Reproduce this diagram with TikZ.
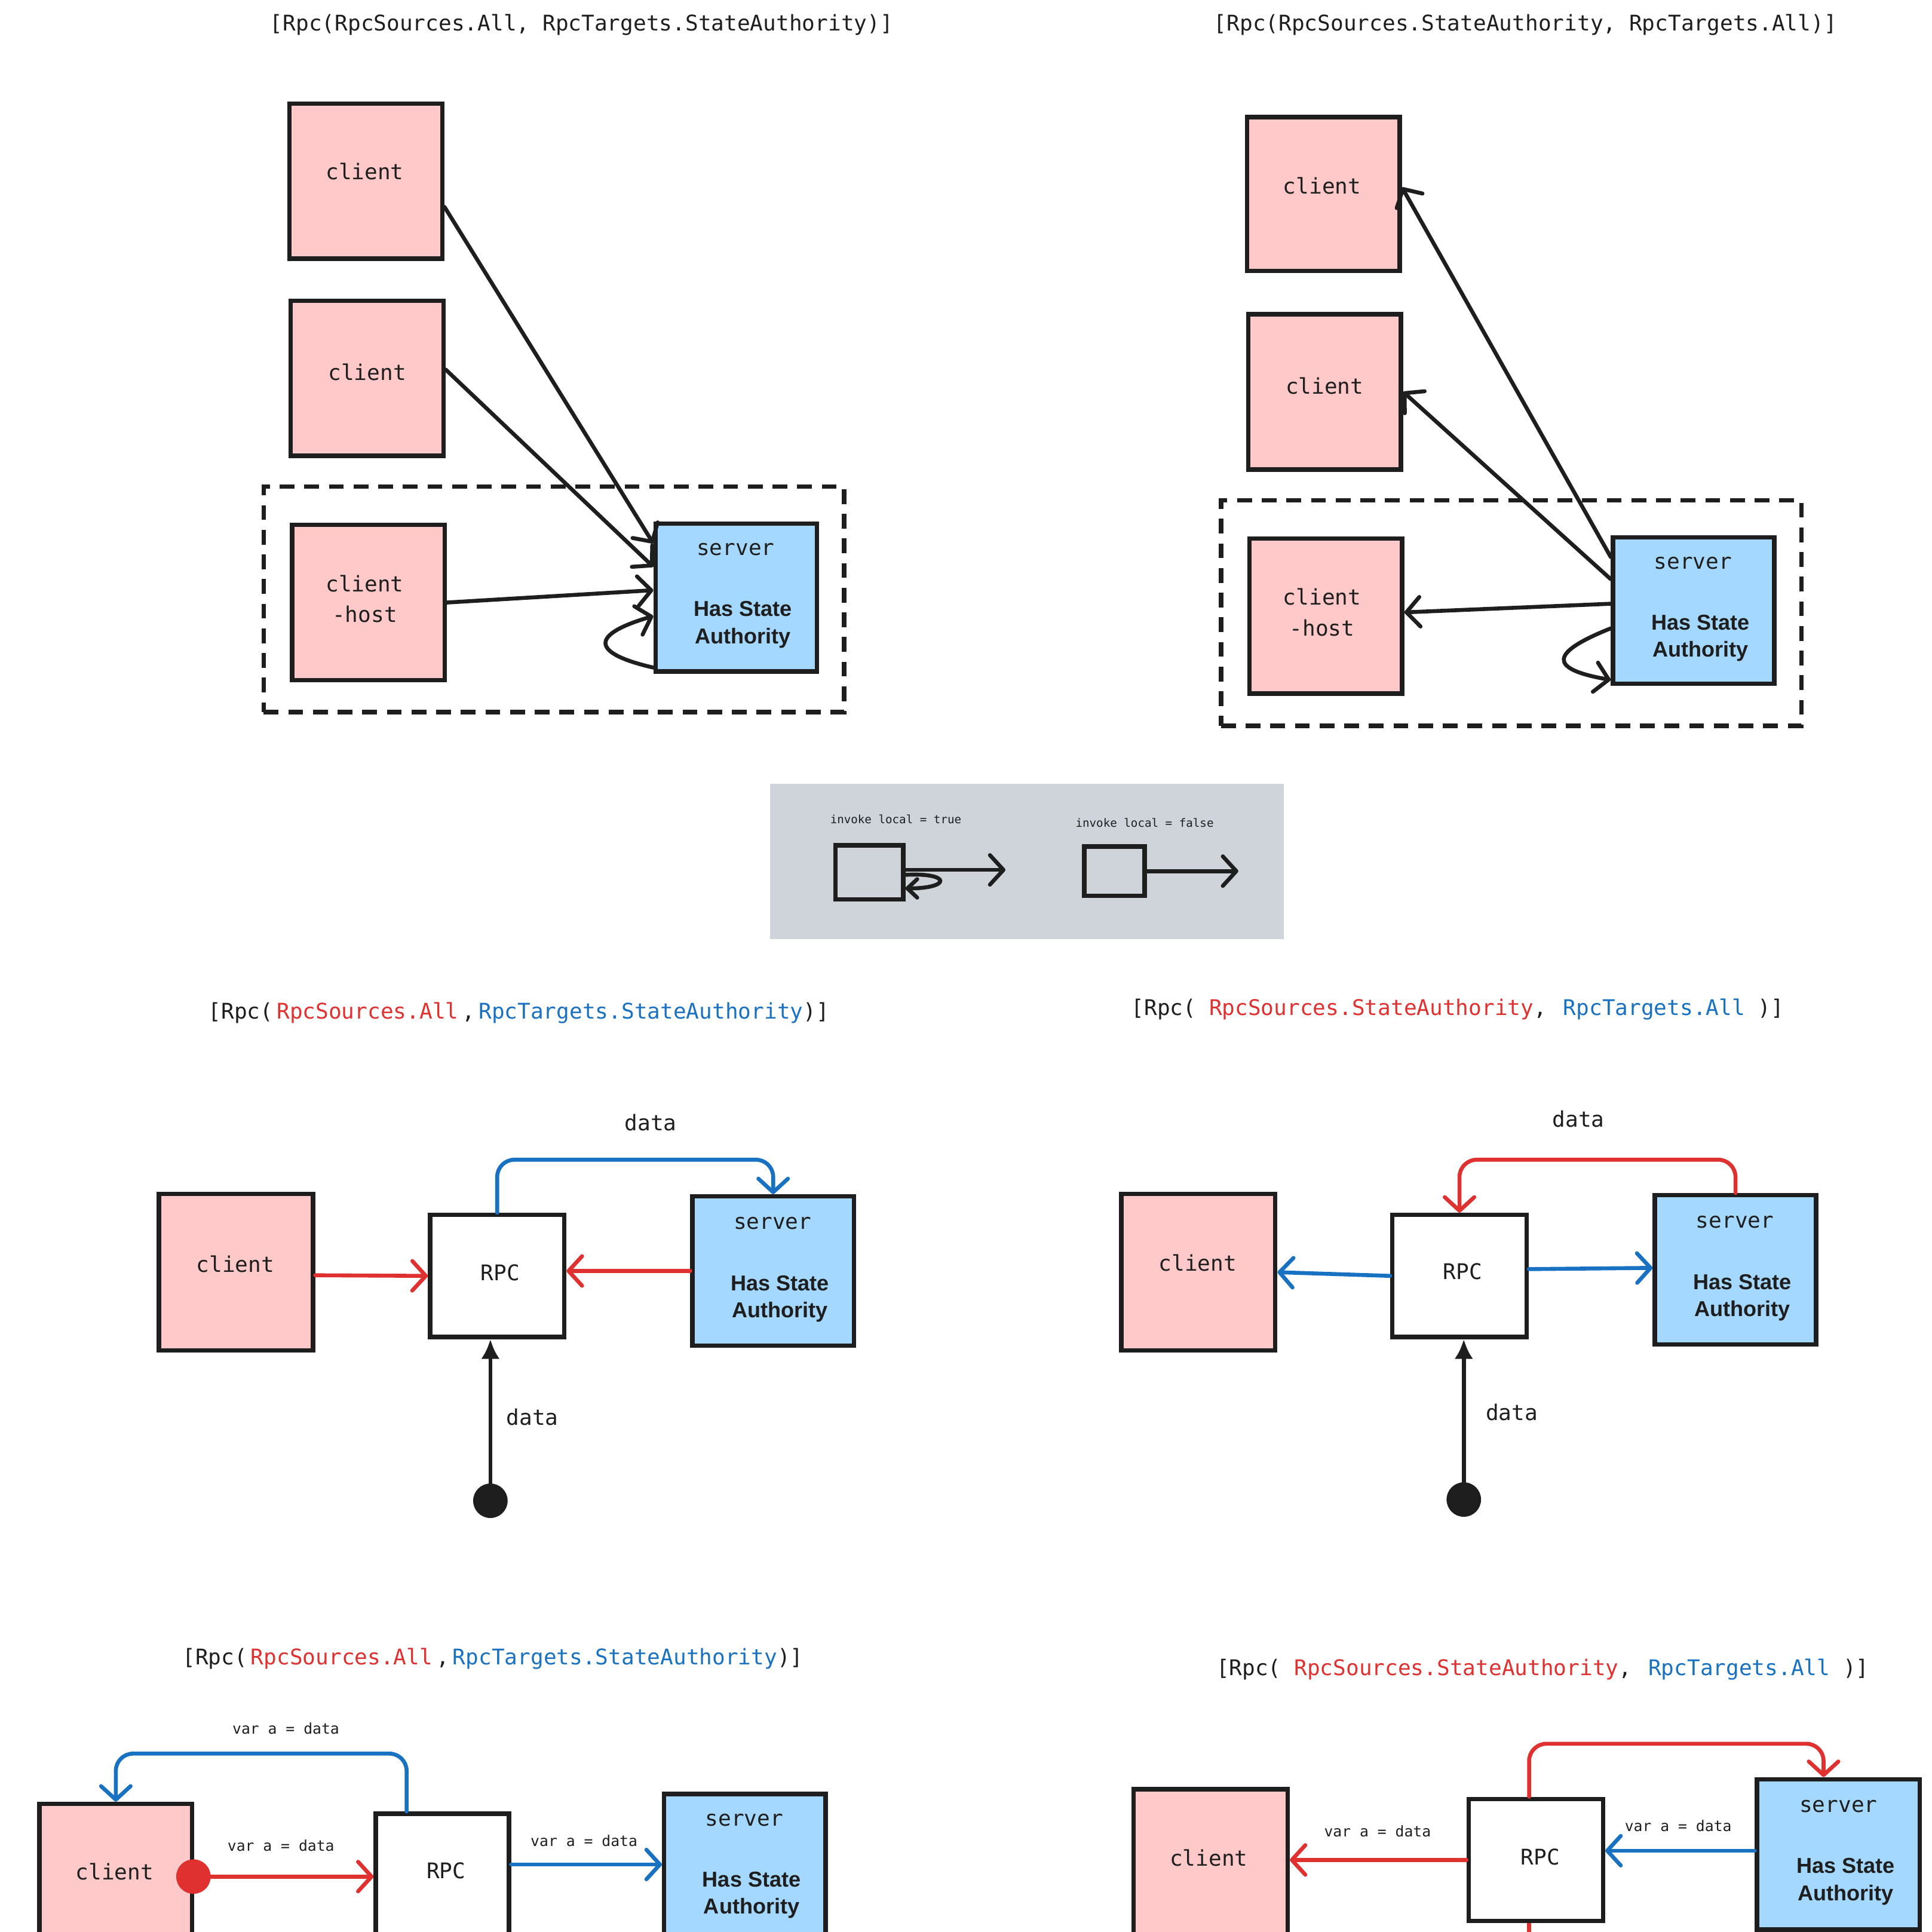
\documentclass[tikz,border=0pt]{standalone}
\usepackage{fontspec}
\setmonofont{DejaVu Sans Mono}
\newfontfamily\hsafont{Liberation Sans}
\usetikzlibrary{arrows.meta,calc}
\definecolor{ink}{HTML}{1E1E1E}
\definecolor{pinkfill}{HTML}{FFC9C9}
\definecolor{bluefill}{HTML}{A5D8FF}
\definecolor{cred}{HTML}{E03131}
\definecolor{cblue}{HTML}{1971C2}
\definecolor{lgray}{HTML}{CED4DA}
\begin{document}
\begin{tikzpicture}[x=1pt,y=-1pt,
  box/.style={draw=ink, line width=3.6pt, inner sep=0pt, rectangle},
  pinkbox/.style={box, fill=pinkfill},
  bluebox/.style={box, fill=bluefill},
  whitebox/.style={box, fill=white},
  dashbox/.style={draw=ink, line width=3.6pt, dash pattern=on 12pt off 8pt, inner sep=0pt},
  lbl/.style={font=\ttfamily\fontsize{17.5pt}{25pt}\selectfont, text=ink, inner sep=0pt},
  hsa/.style={font=\hsafont\bfseries\fontsize{17.5pt}{22pt}\selectfont, align=center, text=ink, inner sep=0pt},
  small/.style={font=\ttfamily\fontsize{12pt}{14pt}\selectfont, text=ink, inner sep=0pt},
  tiny/.style={font=\ttfamily\fontsize{9.3pt}{11pt}\selectfont, text=ink, inner sep=0pt},
  conn/.style={line width=3.2pt, draw=ink, line cap=round, -{Straight Barb[length=11pt,width=24pt,round]}},
  connsm/.style={line width=3.2pt, draw=ink, line cap=round, -{Straight Barb[length=8pt,width=15pt,round]}},
  redconn/.style={conn, draw=cred},
  blueconn/.style={conn, draw=cblue},
  blackconn/.style={line width=3.2pt, draw=ink, -{Latex[length=16pt,width=15pt]}},
  dotnode/.style={circle, fill=ink, minimum size=28pt, inner sep=0pt},
  elbow/.style={rounded corners=14pt}
]
\useasboundingbox (0,0) rectangle (1568,1568);
\clip (0,0) rectangle (1568,1568);

% ================= top left =================
\node[lbl] (t1) at (472,20) {[Rpc(RpcSources.All, RpcTargets.StateAuthority)]};
\node[dashbox, minimum width=471pt, minimum height=183pt] (g1) at (449.5,486.5) {};
\node[pinkbox, minimum width=124pt, minimum height=126pt] (a1) at (297,147) {};
\node[lbl] at (296,139) {client};
\node[pinkbox, minimum width=124pt, minimum height=126pt] (a2) at (298,307) {};
\node[lbl] at (298,302) {client};
\node[pinkbox, minimum width=124pt, minimum height=126pt] (a3) at (299,489) {};
\node[lbl, align=center] at (296,486) {client\\-host};
\node[bluebox, minimum width=131pt, minimum height=120pt] (s1) at (597.5,485) {};
\node[lbl] at (597,446) {server};
\node[hsa] at (603,507) {Has State\\Authority};
\draw[conn] ([yshift=-21pt]a1.east) -- ([yshift=44pt]s1.west);
\draw[conn] ([yshift=7pt]a2.east) -- ([yshift=25pt]s1.west);
\draw[conn] (a3.east) -- ([yshift=6pt]s1.west);
\draw[conn] ([yshift=5pt]s1.south west) .. controls (479,530) and (479,515) .. ([yshift=-15pt]s1.west);

% ================= top right =================
\node[lbl] (t2) at (1238,20) {[Rpc(RpcSources.StateAuthority, RpcTargets.All)]};
\node[dashbox, minimum width=471pt, minimum height=183pt] (g2) at (1226.5,497.5) {};
\node[pinkbox, minimum width=124pt, minimum height=125pt] (b1) at (1074,157.5) {};
\node[lbl] at (1073,151) {client};
\node[pinkbox, minimum width=124pt, minimum height=126pt] (b2) at (1075,318) {};
\node[lbl] at (1075,313) {client};
\node[pinkbox, minimum width=124pt, minimum height=126pt] (b3) at (1076,500) {};
\node[lbl, align=center] at (1073,497) {client\\-host};
\node[bluebox, minimum width=131pt, minimum height=119pt] (s2) at (1374.5,495.5) {};
\node[lbl] at (1374,457) {server};
\node[hsa] at (1380,518) {Has State\\Authority};
\draw[conn] ([yshift=43.5pt]s2.west) -- ([yshift=5.5pt]b1.east);
\draw[conn] ([yshift=25.5pt]s2.west) -- (b2.east);
\draw[conn] ([yshift=5.5pt]s2.west) -- ([yshift=3pt]b3.east);
\draw[conn] ([yshift=-14.5pt]s2.west) .. controls (1257,530) and (1257,543) .. ([yshift=5pt]s2.south west);

% ================= legend =================
\node[fill=lgray, minimum width=417pt, minimum height=126pt, inner sep=0pt] (leg) at (833.5,699) {};
\node[tiny] at (727,665) {invoke local = true};
\node[tiny] at (929,668) {invoke local = false};
\node[box, minimum width=55pt, minimum height=44pt] (lb1) at (705.5,708) {};
\node[box, minimum width=49pt, minimum height=40pt] (lb2) at (904.5,707) {};
\coordinate (le1) at (816,706);
\coordinate (le2) at (1005,707);
\draw[conn] ([yshift=2pt]lb1.east) -- (le1);
\draw[connsm] ([yshift=-2pt]lb1.east) .. controls (772,708) and (772,721) .. ([yshift=-13pt]lb1.east);
\draw[conn] (lb2.east) -- (le2);

% ================= middle left =================
\node[lbl] (t3) at (421,822) {[Rpc(\,\textcolor{cred}{RpcSources.All}\,,\,\textcolor{cblue}{RpcTargets.StateAuthority})]};
\node[lbl] at (528,911) {data};
\node[pinkbox, minimum width=125pt, minimum height=127pt] (mc) at (191.5,1032.5) {};
\node[lbl] at (191,1026) {client};
\node[whitebox, minimum width=109pt, minimum height=99pt] (mr) at (403.5,1035.5) {};
\node[lbl] at (406,1033) {RPC};
\node[bluebox, minimum width=131pt, minimum height=121pt] (ms) at (627.5,1031.5) {};
\node[lbl] at (627,993) {server};
\node[hsa] at (633,1054) {Has State\\Authority};
\draw[redconn] ([yshift=-2.5pt]mc.east) -- (mr.west);
\draw[redconn] (ms.west) -- ([yshift=4pt]mr.east);
\draw[blueconn, elbow] (mr.north) -- ++(0,-43) -| (ms.north);
\node[dotnode] (d1) at (398,1218) {};
\draw[blackconn] (d1.center) -- (d1 |- mr.south);
\node[lbl] at (432,1150) {data};

% ================= middle right =================
\node[lbl] (t4) at (1183,819) {[Rpc( \textcolor{cred}{RpcSources.StateAuthority},\, \textcolor{cblue}{RpcTargets.All} )]};
\node[lbl] at (1281,908) {data};
\node[pinkbox, minimum width=125pt, minimum height=127pt] (nc) at (972.5,1032.5) {};
\node[lbl] at (972,1025) {client};
\node[whitebox, minimum width=109pt, minimum height=99pt] (nr) at (1184.5,1035.5) {};
\node[lbl] at (1187,1032) {RPC};
\node[bluebox, minimum width=131pt, minimum height=121pt] (ns) at (1408.5,1030.5) {};
\node[lbl] at (1408,992) {server};
\node[hsa] at (1414,1053) {Has State\\Authority};
\draw[blueconn] (nr.west) -- (nc.east);
\draw[blueconn] ([yshift=5.5pt]nr.east) -- ([yshift=1.5pt]ns.west);
\draw[redconn, elbow] (ns.north) -- ++(0,-27) -| (nr.north);
\node[dotnode] (d2) at (1188,1217) {};
\draw[blackconn] (d2.center) -- (d2 |- nr.south);
\node[lbl] at (1227,1146) {data};

% ================= bottom left =================
\node[lbl] (t5) at (400,1346) {[Rpc(\,\textcolor{cred}{RpcSources.All}\,,\,\textcolor{cblue}{RpcTargets.StateAuthority})]};
\node[small] at (232,1403) {var a = data};
\node[pinkbox, minimum width=124pt, minimum height=200pt] (pc) at (94,1564) {};
\node[lbl] at (93,1519) {client};
\node[whitebox, minimum width=108pt, minimum height=200pt] (pr) at (359,1572) {};
\node[lbl] at (362,1518) {RPC};
\node[bluebox, minimum width=131pt, minimum height=200pt] (ps) at (604.5,1556) {};
\node[lbl] at (604,1477) {server};
\node[hsa] at (610,1538) {Has State\\Authority};
\node[circle, fill=cred, minimum size=28pt, inner sep=0pt] (rd) at (157,1523) {};
\draw[redconn] (rd.center) -- (rd.center -| pr.west);
\node[small] at (228,1498) {var a = data};
\draw[blueconn] ([yshift=-43pt]pr.north east) -- ([yshift=-59pt]ps.north west);
\node[small] at (474,1494) {var a = data};
\draw[blueconn, elbow] ([xshift=-29pt]pr.north) -- ++(0,-47) -| (pc.north);

% ================= bottom right =================
\node[lbl] (t6) at (1252,1355) {[Rpc( \textcolor{cred}{RpcSources.StateAuthority},\, \textcolor{cblue}{RpcTargets.All} )]};
\node[pinkbox, minimum width=125pt, minimum height=200pt] (qc) at (982.5,1552) {};
\node[lbl] at (981,1508) {client};
\node[whitebox, minimum width=109pt, minimum height=99pt] (qr) at (1246.5,1509.5) {};
\node[lbl] at (1250,1507) {RPC};
\node[bluebox, minimum width=132pt, minimum height=122pt] (qs) at (1492,1505) {};
\node[lbl] at (1492,1466) {server};
\node[hsa] at (1498,1527) {Has State\\Authority};
\draw[redconn] (qr.west) -- (qr.west -| qc.east);
\node[small] at (1118,1486) {var a = data};
\draw[blueconn] ([yshift=3pt]qs.west) -- ([yshift=7.5pt]qr.east);
\node[small] at (1362,1482) {var a = data};
\draw[redconn, elbow] ([xshift=-5.5pt]qr.north) -- ++(0,-43) -| ([xshift=-12pt]qs.north);
\coordinate (qend) at (1241,1590);
\draw[line width=3.2pt, draw=cred] ([xshift=-5.5pt]qr.south) -- (qend);
\end{tikzpicture}
\end{document}
